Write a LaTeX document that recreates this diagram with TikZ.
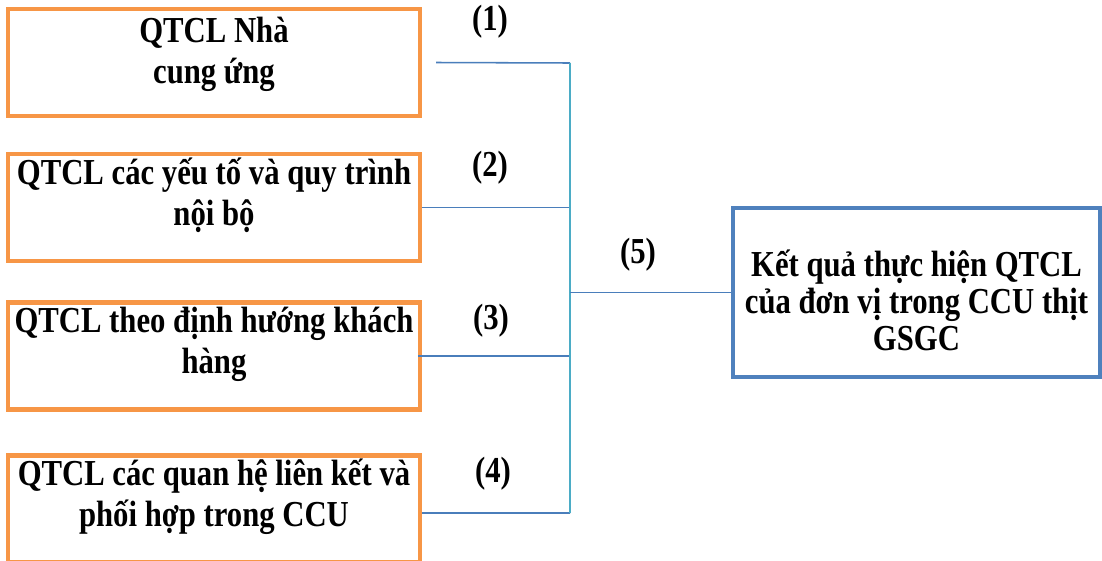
\documentclass[tikz,border=0pt]{standalone}
\usepackage{fontspec}
\setmainfont{Liberation Serif}
\newfontfamily\tallfont[FakeStretch=0.84]{Liberation Serif}
\usetikzlibrary{positioning}
\definecolor{boxorange}{HTML}{F79646}
\definecolor{boxblue}{HTML}{4F81BD}
\definecolor{lineblue}{HTML}{4A7EBB}
\definecolor{linecyan}{HTML}{4BACC6}

\begin{document}
\begin{tikzpicture}[x=0.025cm, y=-0.025cm,
    factor/.style={draw=boxorange, line width=3pt, minimum width=10.3cm, minimum height=2.675cm, inner sep=0pt},
    result/.style={draw=boxblue, line width=3pt, minimum width=9.175cm, minimum height=4.225cm, inner sep=0pt},
    boxtext/.style={font=\tallfont\fontsize{26}{29}\selectfont\bfseries, align=center},
    tag/.style={font=\tallfont\fontsize{26}{29}\selectfont\bfseries},
    link/.style={draw=lineblue, line width=1.1pt},
    trunk/.style={draw=linecyan, line width=1.1pt}]
    \useasboundingbox (0,0) rectangle (1102,560);

    % Factor boxes
    \node[factor] (b1) at (214,62.5) {};
    \node[factor] (b2) at (214,207.5) {};
    \node[factor] (b3) at (214,356) {};
    \node[factor] (b4) at (214,509) {};
    \node[boxtext] (t1) at ([yshift=0.2cm]b1.center) {QTCL Nhà\\cung ứng};
    \node[boxtext] (t2) at ([yshift=0.3cm]b2.center) {QTCL các yếu tố và quy trình\\nội bộ};
    \node[boxtext] (t3) at ([yshift=0.3cm]b3.center) {QTCL theo định hướng khách\\hàng};
    \node[boxtext] (t4) at ([yshift=0.3cm]b4.center) {QTCL các quan hệ liên kết và\\phối hợp trong CCU};

    % Result box
    \node[result] (res) at (916.5,292.5) {};
    \node[boxtext, font=\tallfont\fontsize{26}{26.5}\selectfont\bfseries] (tres) at ([yshift=-0.2cm]res.center) {Kết quả thực hiện QTCL\\của đơn vị trong CCU thịt\\GSGC};

    % Connectors
    \coordinate (top) at (570,63);
    \coordinate (bottom) at (570,513);
    \draw[link] ([xshift=0.35cm]b1.east) -- (top);
    \draw[link] (b2.east) -- (b2.east -| top);
    \draw[link] ([xshift=-0.1cm]b3.east) -- (b3.east -| top);
    \draw[link] ([yshift=-0.1cm]b4.east) -- (bottom);
    \draw[trunk] (top) -- (bottom);
    \draw[link] (res.west -| top) -- (res.west);

    % Labels
    \node[tag] (l1) at (490,22) {(1)};
    \node[tag] (l2) at (490,168) {(2)};
    \node[tag] (l3) at (491,321) {(3)};
    \node[tag] (l4) at (493,474) {(4)};
    \node[tag] (l5) at (638,255) {(5)};
\end{tikzpicture}
\end{document}
